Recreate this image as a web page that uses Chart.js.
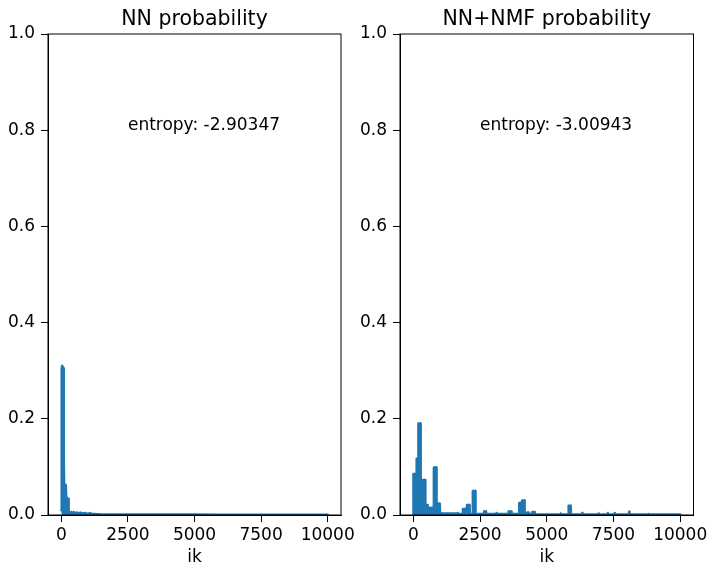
<!DOCTYPE html>
<html>
<head>
<meta charset="utf-8">
<script src="https://cdn.jsdelivr.net/npm/chart.js@4/dist/chart.umd.min.js"></script>
<style>
  body { margin: 0; background: #fff; }
  canvas { position: absolute; top: 0; }
</style>
</head>
<body>
<canvas id="nnChart" width="380" height="568" style="left:0"></canvas>
<canvas id="nmfChart" width="355" height="568" style="left:356px"></canvas>
<script>
// index ik vs probability
const nnIk = [0, 10, 20, 35, 60, 75, 85, 95, 105, 170, 180, 190, 260, 275, 300, 340, 380, 430, 480, 530, 590, 650, 710, 770, 840, 910, 990, 1070, 1160, 1260, 1500, 2000, 3000, 4000, 5000, 6000, 7000, 8000, 9000, 9999];
const nnProb = [0.01, 0.02, 0.305, 0.31, 0.31, 0.305, 0.16, 0.12, 0.065, 0.062, 0.04, 0.035, 0.034, 0.008, 0.006, 0.003, 0.006, 0.004, 0.006, 0.003, 0.005, 0.003, 0.005, 0.004, 0.003, 0.004, 0.002, 0.004, 0.002, 0.002, 0.001, 0.001, 0.001, 0.0008, 0.0008, 0.0006, 0.0006, 0.0005, 0.0005, 0.0005];

const nmfIk = [0, 5, 45, 50, 120, 125, 170, 180, 190, 265, 275, 340, 350, 440, 450, 540, 550, 700, 760, 770, 860, 870, 990, 1000, 1650, 1660, 1670, 1850, 1860, 1950, 1960, 2000, 2010, 2100, 2110, 2220, 2230, 2320, 2330, 2640, 2660, 2720, 2740, 3100, 3110, 3130, 3560, 3570, 3670, 3680, 3960, 3970, 4060, 4080, 4160, 4170, 4240, 4260, 4300, 4320, 4450, 4460, 4550, 4560, 5520, 5530, 5540, 5810, 5820, 5890, 5900, 6320, 6330, 6340, 6940, 6950, 6960, 7280, 7290, 7300, 7540, 7550, 7560, 8080, 8090, 8100, 8800, 8810, 8820, 9999];
const nmfProb = [0.003, 0.085, 0.085, 0.022, 0.022, 0.117, 0.117, 0.005, 0.19, 0.19, 0.012, 0.012, 0.073, 0.073, 0.021, 0.021, 0.014, 0.015, 0.015, 0.099, 0.099, 0.024, 0.024, 0.003, 0.003, 0.004, 0.002, 0.002, 0.0125, 0.0125, 0.002, 0.002, 0.021, 0.021, 0.002, 0.002, 0.05, 0.05, 0.002, 0.002, 0.008, 0.008, 0.002, 0.002, 0.004, 0.002, 0.002, 0.0075, 0.0075, 0.002, 0.002, 0.025, 0.025, 0.03, 0.03, 0.002, 0.002, 0.005, 0.005, 0.002, 0.002, 0.006, 0.006, 0.001, 0.001, 0.003, 0.001, 0.001, 0.019, 0.019, 0.001, 0.001, 0.004, 0.001, 0.001, 0.003, 0.001, 0.001, 0.004, 0.001, 0.001, 0.004, 0.001, 0.001, 0.007, 0.001, 0.001, 0.002, 0.001, 0.001];

const xTicks = [0, 2500, 5000, 7500, 10000];
const yTicks = [0, 0.2, 0.4, 0.6, 0.8, 1.0];

const FONT = "'DejaVu Sans', sans-serif";
const BLUE = "#1f77b4";

// frame + title + entropy note, matplotlib style
const decorations = {
  id: "decorations",
  afterDraw(chart, args, opts) {
    const { ctx, chartArea: a, scales } = chart;
    ctx.save();
    ctx.strokeStyle = "#000";
    ctx.lineWidth = 1;
    ctx.strokeRect(a.left, a.top, a.right - a.left, a.bottom - a.top);
    ctx.fillStyle = "#000";
    ctx.textBaseline = "alphabetic";
    ctx.font = "20.5px " + FONT;
    ctx.textAlign = "center";
    ctx.fillText(opts.title, (a.left + a.right) / 2, 25);
    ctx.font = "17px " + FONT;
    ctx.textAlign = "left";
    ctx.fillText(opts.note, scales.x.getPixelForValue(2500), scales.y.getPixelForValue(0.8));
    ctx.restore();
  }
};

function makeChart(id, ik, prob, title, note, yWidth, padRight) {
  new Chart(document.getElementById(id), {
    type: "line",
    data: {
      datasets: [{
        data: ik.map((x, i) => ({ x: x, y: prob[i] })),
        borderColor: BLUE,
        backgroundColor: BLUE,
        borderWidth: 2.5,
        borderJoinStyle: "round",
        borderCapStyle: "round",
        pointRadius: 0,
        fill: "origin",
        tension: 0
      }]
    },
    options: {
      responsive: false,
      animation: false,
      layout: { padding: { top: 34, right: padRight, left: 0, bottom: 0 } },
      plugins: {
        legend: { display: false },
        tooltip: { enabled: false },
        decorations: { title: title, note: note }
      },
      scales: {
        x: {
          type: "linear",
          min: -500,
          max: 10499,
          afterBuildTicks: s => { s.ticks = xTicks.map(v => ({ value: v })); },
          afterFit: s => { s.height = 53; },
          grid: { drawOnChartArea: false, tickLength: 7, tickColor: "#000", tickWidth: 1 },
          border: { color: "#000" },
          ticks: { color: "#000", padding: 3, maxRotation: 0, callback: v => String(v), font: { family: FONT, size: 17 } },
          title: { display: true, text: "ik", color: "#000", padding: { top: 0, bottom: 0 }, font: { family: FONT, size: 17 } }
        },
        y: {
          min: 0,
          max: 1,
          afterBuildTicks: s => { s.ticks = yTicks.map(v => ({ value: v })); },
          afterFit: s => { s.width = yWidth; },
          grid: { drawOnChartArea: false, tickLength: 7, tickColor: "#000", tickWidth: 1 },
          border: { color: "#000" },
          ticks: { color: "#000", padding: 6, callback: v => v.toFixed(1), font: { family: FONT, size: 17 } }
        }
      }
    },
    plugins: [decorations]
  });
}

makeChart("nnChart", nnIk, nnProb, "NN probability", "entropy: -2.90347", 48, 39);
makeChart("nmfChart", nmfIk, nmfProb, "NN+NMF probability", "entropy: -3.00943", 44, 17);
</script>
</body>
</html>
